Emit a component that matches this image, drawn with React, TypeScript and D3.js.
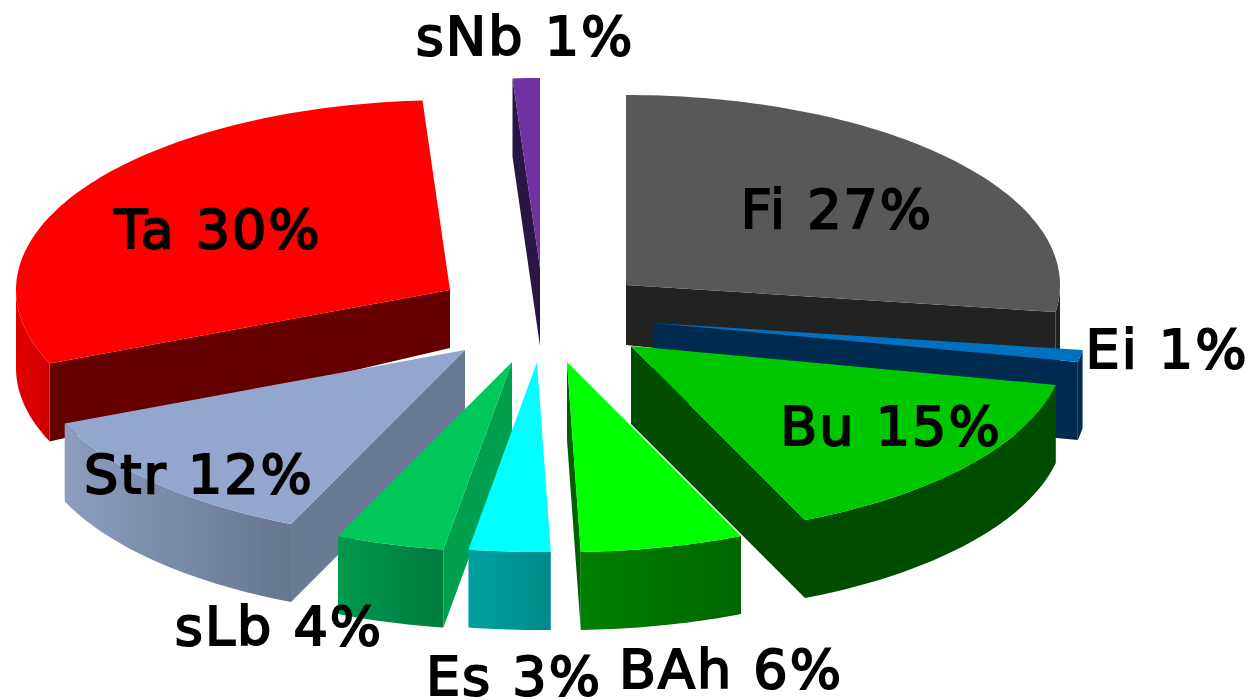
import React from "react";
import * as d3 from "d3";

// pie data, clockwise from 12 o'clock
const names = ["Fi", "Ei", "Bu", "BAh", "Es", "sLb", "Str", "Ta", "sNb"];
const percents = [27, 1, 15, 6, 3, 4, 12, 30, 1];

// colours per slice
const topColors = ["#595959", "#0070c0", "#00c800", "#00ff00", "#00ffff", "#00c85a", "#93a6ce", "#ff0000", "#7030a0"];
const cutColors = ["#222222", "#002b4f", "#004d00", "#005f00", "#008a8a", "#00a050", "#6b7a94", "#660000", "#2c1445"];
const rimLeft = ["#222222", "#002b4f", "#004d00", "#008000", "#00a0a0", "#009950", "#8c9ebf", "#e00000", "#2c1445"];
const rimRight = ["#222222", "#002b4f", "#004d00", "#006600", "#008a8a", "#007a3e", "#66758f", "#d00000", "#2c1445"];

// how far each slice is pulled out of the pie
const explodeX = [86, 113, 91, 27, -3, -28, -75, -90, 0];
const explodeY = [-55, -17, 6, 22, 22, 22, 10, -50, -72];
// the thickness looks thinner at the hub of the two big back slices
const hubDepth = [60, 78, 78, 78, 78, 78, 78, 58, 78];

// back to front
const paintOrder = [8, 0, 7, 1, 2, 6, 5, 3, 4];

// label centre and baseline offset from the slice hub
const labelDx = [211, 514, 260, 164, -23, -233, -266, -232, -15];
const labelDy = [-57, 45, 99, 326, 333, 283, 143, -42, -213];

const width = 1250;
const height = 700;
const cx = 540;
const cy = 340;
const rx = 434;
const ry = 190;
const depth = 78;
const halfTurn = Math.PI;

const arcs = d3.pie<number>().sort(null).value((d) => d)(percents);
const line = d3.line();

const hub = (i: number): [number, number] => [cx + explodeX[i], cy + explodeY[i]];

const rimPoint = (i: number, a: number, dz: number): [number, number] => {
  const [hx, hy] = hub(i);
  return [hx + rx * Math.sin(a), hy - ry * Math.cos(a) + dz];
};

const arcPoints = (i: number, a0: number, a1: number, dz: number) => {
  const steps = Math.max(2, Math.ceil(Math.abs(a1 - a0) / 0.02));
  const angle = d3.scaleLinear().domain([0, steps]).range([a0, a1]);
  return d3.range(steps + 1).map((k) => rimPoint(i, angle(k), dz));
};

const topPath = (i: number) => {
  const { startAngle, endAngle } = arcs[i];
  return line([hub(i), ...arcPoints(i, startAngle, endAngle, 0)]) + "Z";
};

// radial wall, only the one facing the viewer
const cutPath = (i: number) => {
  const { startAngle, endAngle } = arcs[i];
  let a: number | null = null;
  if (endAngle <= halfTurn) a = endAngle;
  else if (startAngle >= halfTurn) a = startAngle;
  if (a === null) return null;
  const [hx, hy] = hub(i);
  return line([
    [hx, hy],
    rimPoint(i, a, 0),
    rimPoint(i, a, depth),
    [hx, hy + hubDepth[i]],
  ]) + "Z";
};

// outer wall, only the front half of the rim
const rimPath = (i: number) => {
  const a0 = Math.max(arcs[i].startAngle, halfTurn / 2);
  const a1 = Math.min(arcs[i].endAngle, (halfTurn * 3) / 2);
  if (a1 <= a0) return null;
  return line([...arcPoints(i, a0, a1, 0), ...arcPoints(i, a1, a0, depth)]) + "Z";
};

export default function App() {
  return (
    <svg
      width={width}
      height={height}
      style={{ position: "absolute", left: 0, top: 0, display: "block", background: "#fff" }}
    >
      <defs>
        <filter id="soft" x="-5%" y="-5%" width="110%" height="110%">
          <feGaussianBlur stdDeviation="0.55" />
        </filter>
        {names.map((n, i) => (
          <linearGradient key={n} id={`rim-${i}`} x1="0" x2="1" y1="0" y2="0">
            <stop offset="0" stopColor={rimLeft[i]} />
            <stop offset="1" stopColor={rimRight[i]} />
          </linearGradient>
        ))}
      </defs>
      <g filter="url(#soft)">
        {paintOrder.map((i) => {
          const cut = cutPath(i);
          const rim = rimPath(i);
          return (
            <g key={names[i]}>
              {cut && <path d={cut} fill={cutColors[i]} />}
              {rim && <path d={rim} fill={`url(#rim-${i})`} />}
              <path d={topPath(i)} fill={topColors[i]} />
            </g>
          );
        })}
        {names.map((n, i) => {
          const [hx, hy] = hub(i);
          return (
            <text
              key={n}
              x={hx + labelDx[i]}
              y={hy + labelDy[i]}
              textAnchor="middle"
              fontFamily="'DejaVu Sans', Verdana, sans-serif"
              fontSize={54}
              fill="#000"
              stroke="#000"
              strokeWidth={2}
              letterSpacing={2}
              wordSpacing={1}
            >
              {`${n} ${percents[i]}%`}
            </text>
          );
        })}
      </g>
    </svg>
  );
}
